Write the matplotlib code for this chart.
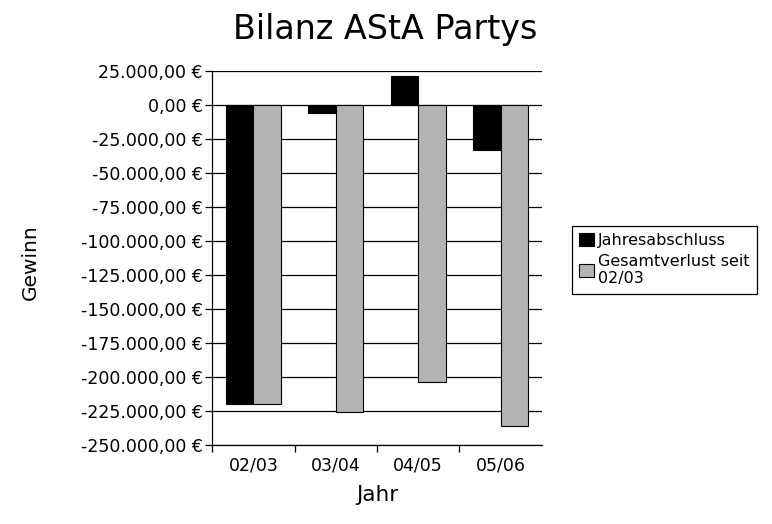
import numpy as np
import matplotlib
matplotlib.use("Agg")
import matplotlib.pyplot as plt
from matplotlib.ticker import FuncFormatter, FixedLocator

jahre = ["02/03", "03/04", "04/05", "05/06"]
jahresabschluss = [-220000, -5600, 21400, -33100]
gesamtverlust = [-220000, -225400, -203500, -236300]
series_names = ["Jahresabschluss", "Gesamtverlust seit\n02/03"]

plt.rcParams['font.family'] = ['DejaVu Sans']

def euro(v, pos=None):
    s = "{:,.2f}".format(v)
    s = s.replace(",", "X").replace(".", ",").replace("X", ".")
    return s + " €"

fig = plt.figure(figsize=(7.72, 5.24), dpi=100)
ax = fig.add_axes([212.3/772, 1-445/524, (541.7-212.3)/772, (445-71)/524])

x = np.arange(len(jahre))
w = 0.334
b1 = ax.bar(x - w/2, jahresabschluss, w, color="black", edgecolor="black", linewidth=0.8, zorder=3)
b2 = ax.bar(x + w/2, gesamtverlust, w, color="#b3b3b3", edgecolor="black", linewidth=0.8, zorder=3)

ax.set_ylim(-250000, 25000)
ax.set_xlim(-0.5, 3.5)
ax.set_yticks(np.arange(-250000, 25001, 25000))
ax.yaxis.set_major_formatter(FuncFormatter(euro))
ax.yaxis.grid(True, color="black", linewidth=0.9, zorder=0)
ax.set_axisbelow(True)

ax.xaxis.set_major_locator(FixedLocator([-0.5, 0.5, 1.5, 2.5]))
ax.xaxis.set_major_formatter(FuncFormatter(lambda v, p: ""))
ax.xaxis.set_minor_locator(FixedLocator(x))
ax.set_xticklabels(jahre, minor=True)
ax.tick_params(axis="x", which="minor", length=0, labelsize=12.5, pad=8)
ax.tick_params(axis="x", which="major", length=5, width=0.9)
ax.tick_params(axis="y", length=5, width=0.9, labelsize=12.5, pad=2)

for s in ["top", "right"]:
    ax.spines[s].set_visible(False)
for s in ["left", "bottom"]:
    ax.spines[s].set_linewidth(0.9)

fig.text(385/772, 1-30/524, "Bilanz AStA Partys", fontsize=24, ha="center", va="center")
fig.text(30/772, 1-262/524, "Gewinn", fontsize=14.5, rotation=90, ha="center", va="center")
fig.text(377/772, 1-495/524, "Jahr", fontsize=15.5, ha="center", va="center")

leg = fig.legend([b1, b2], series_names, loc="upper left",
                 bbox_to_anchor=(572/772, 1-226/524), fontsize=11.5,
                 handlelength=0.9, handleheight=0.9, handletextpad=0.3,
                 borderpad=0.45, labelspacing=0.35, fancybox=False,
                 edgecolor="black", framealpha=1, borderaxespad=0)
leg.get_frame().set_linewidth(0.9)

fig.savefig("out.png", dpi=100)
